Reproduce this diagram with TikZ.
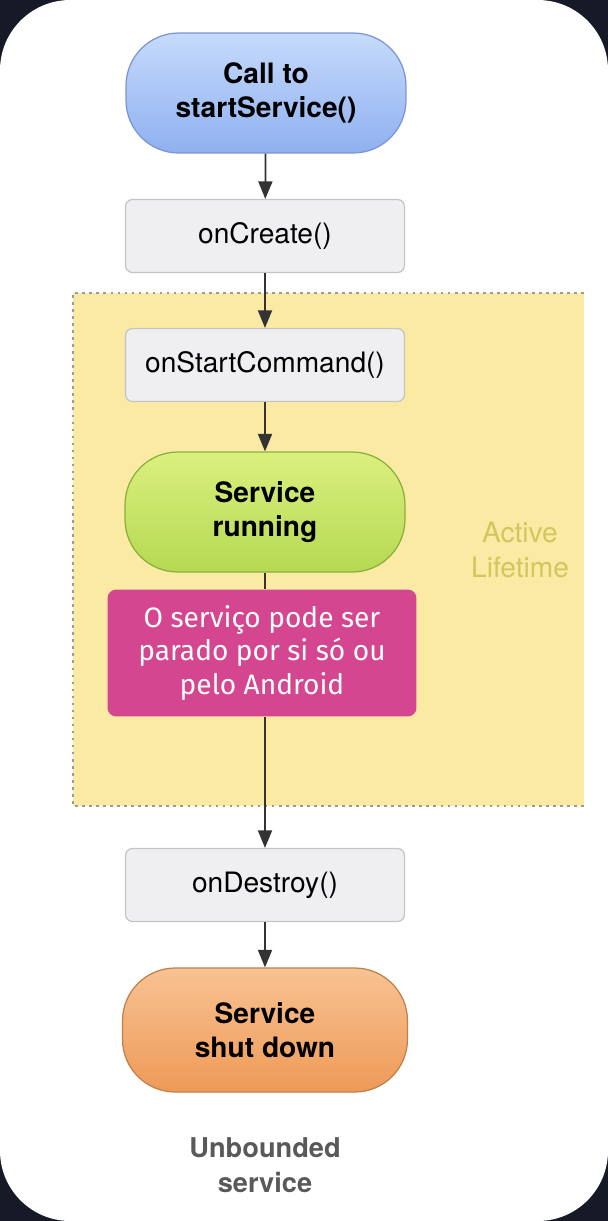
\documentclass[tikz,border=0pt]{standalone}
\usepackage{fontspec}
\setmainfont{TeX Gyre Heros}
\newfontfamily\notefont{Fira Sans}
\usetikzlibrary{arrows.meta}

\definecolor{screenDark}{HTML}{161926}
\definecolor{callTop}{HTML}{C6DBFB}
\definecolor{callBottom}{HTML}{8FB0F0}
\definecolor{callLine}{HTML}{7C93D6}
\definecolor{runTop}{HTML}{DAF07E}
\definecolor{runBottom}{HTML}{B5D952}
\definecolor{runLine}{HTML}{8CAD3E}
\definecolor{downTop}{HTML}{F8C292}
\definecolor{downBottom}{HTML}{EE9A57}
\definecolor{downLine}{HTML}{C0804A}
\definecolor{stepFill}{HTML}{EFEFF2}
\definecolor{stepLine}{HTML}{C4C4C4}
\definecolor{activeFill}{HTML}{FBEAA4}
\definecolor{activeText}{HTML}{D2C65E}
\definecolor{noteFill}{HTML}{D4468F}

\begin{document}
\begin{tikzpicture}[x=0.02cm, y=-0.02cm, font=\fontsize{16}{20}\selectfont]
	\tikzstyle{pillStyle}=[rectangle, rounded corners=30pt, minimum width=5.6cm, minimum height=2.4cm, align=center, draw, line width=0.7pt, font=\fontsize{16}{19.5}\selectfont\bfseries]
	\tikzstyle{callStyle}=[pillStyle, top color=callTop, bottom color=callBottom, draw=callLine]
	\tikzstyle{runStyle}=[pillStyle, top color=runTop, bottom color=runBottom, draw=runLine]
	\tikzstyle{downStyle}=[pillStyle, top color=downTop, bottom color=downBottom, draw=downLine, minimum width=5.7cm, minimum height=2.48cm]
	\tikzstyle{stepStyle}=[rectangle, rounded corners=4pt, minimum width=5.58cm, minimum height=1.46cm, fill=stepFill, draw=stepLine, line width=0.7pt]
	\tikzstyle{noteStyle}=[rectangle, rounded corners=5pt, minimum width=6.18cm, minimum height=2.54cm, fill=noteFill, text=white, align=center, font=\notefont\fontsize{16}{19}\selectfont]
	\tikzstyle{flowStyle}=[draw=black!80, line width=1pt, -{Triangle[length=10pt, width=8pt]}]

	% screen
	\useasboundingbox[fill=screenDark] (0,0) rectangle (608,1221);
	\fill[white, rounded corners=40pt] (0,0) rectangle (608,1221);

	% active lifetime area
	\fill[activeFill] (73,293) rectangle (584,806);
	\draw[black!40, line width=1.5pt, dash pattern=on 1.5pt off 2.5pt] (584,293) -- (73,293) -- (73,806) -- (584,806);
	\node[text=activeText, align=center] (active) at (520,550) {Active\\Lifetime};

	\node[callStyle] (call) at (266,93) {Call to\\startService()};
	\node[stepStyle] (create) at (265,236) {onCreate()};
	\node[stepStyle] (command) at (265,365) {onStartCommand()};
	\node[runStyle] (running) at (265,512) {Service\\running};
	\node[noteStyle] (stopped) at (262,653) {O serviço pode ser\\parado por si só ou\\pelo Android};
	\node[stepStyle] (destroy) at (265,885) {onDestroy()};
	\node[downStyle] (shutdown) at (265,1030) {Service\\shut down};
	\node[text=black!65, align=center, font=\fontsize{15.5}{20}\selectfont\bfseries] (unbounded) at (265,1165) {Unbounded\\service};

	\draw[flowStyle] (call) -- (create);
	\draw[flowStyle] (create) -- (command);
	\draw[flowStyle] (command) -- (running);
	\draw[draw=black!80, line width=1pt] (running) -- (running |- stopped.north);
	\draw[flowStyle] (destroy |- stopped.south) -- (destroy);
	\draw[flowStyle] (destroy) -- (shutdown);
\end{tikzpicture}
\end{document}
